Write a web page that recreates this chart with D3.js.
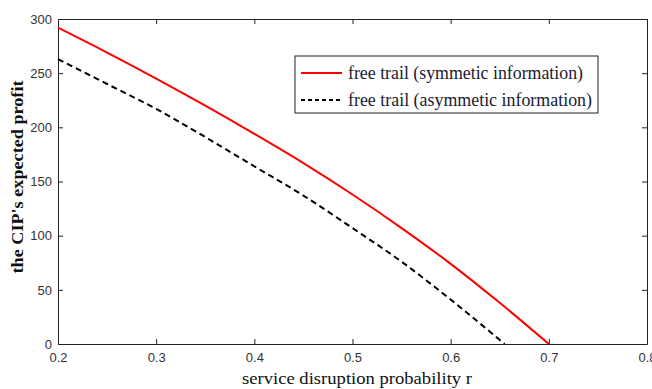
<!DOCTYPE html>
<html>
<head>
<meta charset="utf-8">
<script src="https://cdn.jsdelivr.net/npm/d3@7"></script>
<style>
  html, body { margin: 0; padding: 0; background: #fff; }
  svg { display: block; }
</style>
</head>
<body>
<svg id="chart" width="652" height="389"></svg>
<script>
// Disruption probability r and the CIP's expected profit under each information regime
const rSym   = [0.2, 0.25, 0.3, 0.35, 0.4, 0.45, 0.5, 0.55, 0.6, 0.65, 0.7];
const profitSym = [292, 269, 245, 220, 194, 167, 138, 107, 74, 38, 0];
const rAsym  = [0.2, 0.25, 0.3, 0.35, 0.4, 0.45, 0.5, 0.55, 0.6, 0.655];
const profitAsym = [263, 240, 217, 191, 164, 137, 107, 76, 41, 0];
const xTicks = [0.2, 0.3, 0.4, 0.5, 0.6, 0.7, 0.8];
const yTicks = [0, 50, 100, 150, 200, 250, 300];
const legendLabels = ["free trail (symmetic information)", "free trail (asymmetic information)"];

const svg = d3.select("#chart");
const m = { left: 58, right: 5, top: 19, bottom: 45 };
const W = 652, H = 389;
const x = d3.scaleLinear().domain([0.2, 0.8]).range([m.left, W - m.right]);
const y = d3.scaleLinear().domain([0, 300]).range([H - m.bottom, m.top]);

const tickFont = "'Liberation Sans Narrow', 'Arial Narrow', 'Liberation Sans', sans-serif";
const serif = "'Liberation Serif', 'Times New Roman', serif";

// Axes with inward ticks, MATLAB-style box
const bottomAxis = d3.axisBottom(x).tickValues(xTicks).tickFormat(d3.format(".1f")).tickSizeInner(-5).tickSizeOuter(0).tickPadding(9);
const leftAxis = d3.axisLeft(y).tickValues(yTicks).tickFormat(d3.format("d")).tickSizeInner(-5).tickSizeOuter(0).tickPadding(6);
const topAxis = d3.axisTop(x).tickValues(xTicks).tickFormat("").tickSizeInner(-5).tickSizeOuter(0);
const rightAxis = d3.axisRight(y).tickValues(yTicks).tickFormat("").tickSizeInner(-5).tickSizeOuter(0);

function styleAxis(g) {
  g.selectAll("path.domain").attr("stroke", "#222").attr("stroke-width", 1);
  g.selectAll(".tick line").attr("stroke", "#222");
  g.selectAll(".tick text").attr("fill", "#333").style("font-family", tickFont).style("font-size", "13px");
}

svg.append("g").attr("transform", `translate(0,${H - m.bottom})`).call(bottomAxis).call(styleAxis);
svg.append("g").attr("transform", `translate(${m.left},0)`).call(leftAxis).call(styleAxis);
svg.append("g").attr("transform", `translate(0,${m.top})`).call(topAxis).call(styleAxis);
svg.append("g").attr("transform", `translate(${W - m.right},0)`).call(rightAxis).call(styleAxis);

// Curves
const line = d3.line().x(d => x(d[0])).y(d => y(d[1])).curve(d3.curveMonotoneX);
svg.append("path")
  .datum(d3.zip(rSym, profitSym))
  .attr("d", line).attr("fill", "none").attr("stroke", "#ff0000").attr("stroke-width", 2);
svg.append("path")
  .datum(d3.zip(rAsym, profitAsym))
  .attr("d", line).attr("fill", "none").attr("stroke", "#000").attr("stroke-width", 2)
  .attr("stroke-dasharray", "6,4");

// Axis titles
svg.append("text")
  .attr("x", 357).attr("y", 384).attr("text-anchor", "middle")
  .attr("textLength", 230).attr("lengthAdjust", "spacingAndGlyphs")
  .style("font-family", serif).style("font-size", "17px").attr("fill", "#111")
  .text("service disruption probability r");
svg.append("text")
  .attr("transform", "translate(23,177) rotate(-90)").attr("text-anchor", "middle")
  .attr("textLength", 193).attr("lengthAdjust", "spacingAndGlyphs")
  .style("font-family", serif).style("font-size", "17px").style("font-weight", "bold").attr("fill", "#111")
  .text("the CIP's expected profit");

// Legend
const lg = svg.append("g").attr("transform", "translate(295,56)");
lg.append("rect").attr("width", 303).attr("height", 57).attr("fill", "#fff").attr("stroke", "#222").attr("stroke-width", 1);
const styles = [{ c: "#ff0000", d: null, w: 235 }, { c: "#000", d: "4,3", w: 244 }];
legendLabels.forEach((t, i) => {
  const yy = 17 + i * 27;
  lg.append("line").attr("x1", 6).attr("x2", 47).attr("y1", yy).attr("y2", yy)
    .attr("stroke", styles[i].c).attr("stroke-width", 2).attr("stroke-dasharray", styles[i].d);
  lg.append("text").attr("x", 53).attr("y", yy + 6)
    .attr("textLength", styles[i].w).attr("lengthAdjust", "spacingAndGlyphs")
    .style("font-family", serif).style("font-size", "18px").attr("fill", "#1a1a33")
    .text(t);
});
</script>
</body>
</html>
